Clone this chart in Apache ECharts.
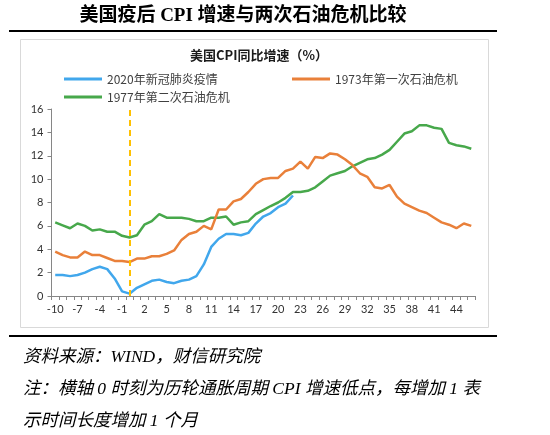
<!DOCTYPE html>
<html>
<head>
<meta charset="utf-8">
<script src="https://cdn.jsdelivr.net/npm/echarts@6/dist/echarts.min.js"></script>
<style>
html,body{margin:0;padding:0;background:#fff;}
#c{width:550px;height:435px;}
</style>
</head>
<body>
<div id="c"></div>
<script>
// ---- data ----
var months = [];
for (var m = -10; m <= 46; m++) months.push(String(m));

var seriesNames = ['2020年新冠肺炎疫情', '1973年第一次石油危机', '1977年第二次石油危机'];

// 2020 COVID (months -10 .. 22)
var cpi2020 = [1.8,1.8,1.7,1.8,2.0,2.3,2.5,2.3,1.5,0.4,
               0.2,0.7,1.0,1.3,1.4,1.2,1.1,1.3,1.4,1.7,
               2.7,4.2,4.9,5.3,5.3,5.2,5.4,6.2,6.8,7.1,
               7.6,7.9,8.6];
// 1973 first oil crisis (months -10 .. 46)
var cpi1973 = [3.8,3.5,3.3,3.3,3.8,3.5,3.5,3.25,3.0,3.0,
               2.9,3.2,3.2,3.4,3.4,3.6,3.9,4.8,5.3,5.5,
               6.0,5.7,7.4,7.4,8.1,8.3,8.9,9.6,10.0,10.1,
               10.1,10.7,10.9,11.5,10.9,11.9,11.8,12.2,12.1,11.7,
               11.2,10.5,10.2,9.3,9.2,9.5,8.5,7.9,7.6,7.3,
               7.1,6.7,6.3,6.1,5.8,6.2,6.0];
// 1977 second oil crisis (months -10 .. 46)
var cpi1977 = [6.3,6.05,5.8,6.2,6.0,5.6,5.7,5.5,5.5,5.15,
               5.0,5.2,6.1,6.4,7.0,6.7,6.7,6.7,6.6,6.4,
               6.4,6.7,6.7,6.8,6.1,6.3,6.4,7.0,7.35,7.7,
               8.0,8.4,8.9,8.9,9.0,9.3,9.8,10.3,10.5,10.7,
               11.1,11.4,11.7,11.8,12.1,12.5,13.2,13.9,14.1,14.6,
               14.6,14.4,14.3,13.1,12.9,12.8,12.6];

var yTicks = {min: 0, max: 16, interval: 2};
var lowPoint = '0';

var mainTitle = '美国疫后 CPI 增速与两次石油危机比较';
var chartTitle = '美国CPI同比增速（%）';
var note1 = '资料来源：WIND，财信研究院';
var note2 = '注：横轴 0 时刻为历轮通胀周期 CPI 增速低点，每增加 1 表';
var note3 = '示时间长度增加 1 个月';

// ---- chart ----
var colors = ['#41A7EC', '#E9803A', '#47A84B'];
var chart = echarts.init(document.getElementById('c'), null, {renderer: 'canvas'});
var noteFont = "italic 17.5px 'Liberation Serif','Noto Sans CJK SC'";

function legendAt(name, left, top) {
  return {
    data: [name], left: left, top: top, icon: 'rect',
    itemWidth: 38, itemHeight: 3, itemGap: 5, padding: 0,
    textStyle: {fontSize: 12, color: '#404040', fontFamily: "'Noto Sans CJK SC'"}
  };
}

chart.setOption({
  animation: false,
  color: colors,
  legend: [
    legendAt(seriesNames[0], 64, 73),
    legendAt(seriesNames[1], 292, 73),
    legendAt(seriesNames[2], 64, 91)
  ],
  grid: {left: 51.5, right: 75, top: 109, bottom: 139, containLabel: false},
  xAxis: {
    type: 'category', data: months, boundaryGap: true,
    axisLine: {lineStyle: {color: '#868686', width: 1}},
    axisTick: {show: true, interval: 0, length: 4, lineStyle: {color: '#868686'}},
    axisLabel: {interval: 2, fontSize: 11, color: '#333', margin: 8, fontFamily: 'Lato'},
    splitLine: {show: false}
  },
  yAxis: {
    type: 'value', min: yTicks.min, max: yTicks.max, interval: yTicks.interval,
    axisLine: {show: true, lineStyle: {color: '#868686', width: 1}},
    axisTick: {show: true, length: 4, lineStyle: {color: '#868686'}},
    axisLabel: {fontSize: 11, color: '#333', margin: 8, fontFamily: 'Lato'},
    splitLine: {show: false}
  },
  series: [
    {name: seriesNames[0], type: 'line', data: cpi2020, symbol: 'none',
     lineStyle: {width: 2.5}, z: 4,
     markLine: {symbol: 'none', silent: true, label: {show: false},
       lineStyle: {color: '#FFC000', type: [6, 4], width: 2},
       data: [{xAxis: months.indexOf(lowPoint)}]}},
    {name: seriesNames[1], type: 'line', data: cpi1973, symbol: 'none', lineStyle: {width: 2.5}, z: 3},
    {name: seriesNames[2], type: 'line', data: cpi1977, symbol: 'none', lineStyle: {width: 2.5}, z: 2}
  ],
  graphic: [
    {type: 'text', x: 243, y: 16, silent: true,
     style: {text: mainTitle, textAlign: 'center', textVerticalAlign: 'middle',
       font: "bold 19px 'Liberation Serif','Noto Sans CJK SC'", fill: '#000'}},
    {type: 'line', silent: true, shape: {x1: 9, y1: 31, x2: 497, y2: 31},
     style: {stroke: '#000', lineWidth: 2}},
    {type: 'rect', silent: true, shape: {x: 20.5, y: 39.5, width: 468, height: 288},
     style: {stroke: '#d9d9d9', fill: null, lineWidth: 1}},
    {type: 'text', x: 259, y: 55, silent: true,
     style: {text: chartTitle, textAlign: 'center', textVerticalAlign: 'middle',
       font: "bold 13px 'Noto Sans CJK SC'", fill: '#1a1a1a'}},
    {type: 'line', silent: true, shape: {x1: 9, y1: 336, x2: 497, y2: 336},
     style: {stroke: '#000', lineWidth: 2}},
    {type: 'text', x: 23, y: 357, silent: true,
     style: {text: note1, textVerticalAlign: 'middle', font: noteFont, fill: '#000'}},
    {type: 'text', x: 23, y: 389, silent: true,
     style: {text: note2, textVerticalAlign: 'middle', font: noteFont, fill: '#000'}},
    {type: 'text', x: 23, y: 421, silent: true,
     style: {text: note3, textVerticalAlign: 'middle', font: noteFont, fill: '#000'}}
  ]
});
</script>
</body>
</html>
